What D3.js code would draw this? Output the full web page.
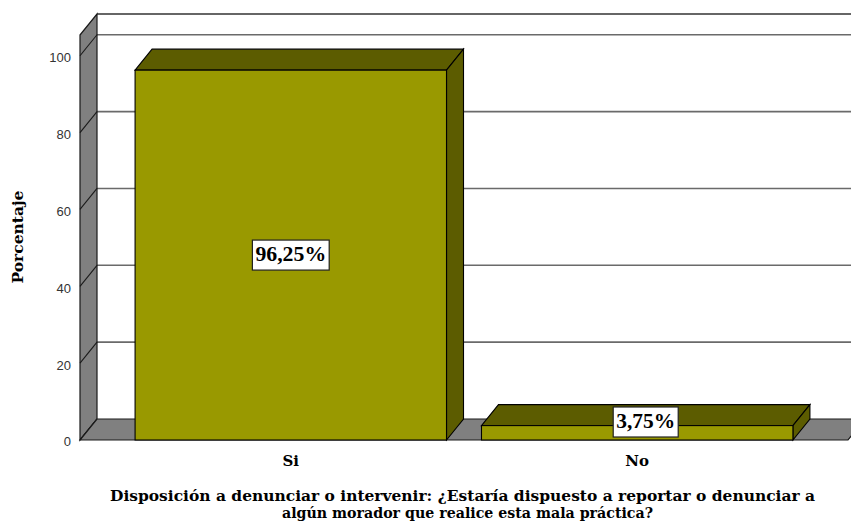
<!DOCTYPE html>
<html>
<head>
<meta charset="utf-8">
<script src="https://cdn.jsdelivr.net/npm/d3@7"></script>
<style>
  html, body { margin: 0; padding: 0; background: #ffffff; }
  svg { display: block; }
</style>
</head>
<body>
<div id="chart"></div>
<script>
// ---- data ----
const categories = ["Si", "No"];
const values = [96.25, 3.75];
const valueLabels = ["96,25%", "3,75%"];
const yTicks = [0, 20, 40, 60, 80, 100];
const yAxisTitle = "Porcentaje";
const xTitleLines = [
  "Disposición a denunciar o intervenir: ¿Estaría dispuesto a reportar o denunciar a",
  "algún morador que realice esta mala práctica?"
];

// ---- layout ----
const W = 851, H = 528;
const DX = 17, DY = -21;           // 3D depth offset
const x0 = 80, x1 = 848;            // front plane horizontal range
const yBottom = 440, yTop = 35;     // front plane vertical range

const svg = d3.select("#chart").append("svg")
  .attr("width", W).attr("height", H);

const x = d3.scaleBand().domain(categories).range([x0, x1])
  .paddingInner(0.101).paddingOuter(0.159);
const y = d3.scaleLinear().domain([0, 105.4]).range([yBottom, yTop]);

const wallFill = "#808080", edge = "#1a1a1a";
const serif = "DejaVu Serif, Liberation Serif, serif";

// back wall top border
svg.append("line")
  .attr("x1", x0 + DX).attr("x2", W + 5)
  .attr("y1", y(105.4) + DY).attr("y2", y(105.4) + DY)
  .attr("stroke", "#333").attr("stroke-width", 1.5);

// gridlines on back wall
svg.selectAll(".grid").data(yTicks.filter(d => d > 0)).join("line")
  .attr("x1", x0 + DX).attr("x2", W + 5)
  .attr("y1", d => y(d) + DY).attr("y2", d => y(d) + DY)
  .attr("stroke", "#6a6a6a").attr("stroke-width", 1.6);

// left wall
svg.append("path")
  .attr("d", `M${x0},${y(105.4)} L${x0 + DX},${y(105.4) + DY} L${x0 + DX},${y(0) + DY} L${x0},${y(0)} Z`)
  .attr("fill", wallFill).attr("stroke", edge).attr("stroke-width", 1.2);

// tick diagonals on left wall
svg.selectAll(".tickd").data(yTicks).join("line")
  .attr("x1", x0).attr("x2", x0 + DX)
  .attr("y1", d => y(d)).attr("y2", d => y(d) + DY)
  .attr("stroke", edge).attr("stroke-width", 1.1);

// floor
svg.append("path")
  .attr("d", `M${x0},${y(0)} L${x1},${y(0)} L${x1 + DX},${y(0) + DY} L${x0 + DX},${y(0) + DY} Z`)
  .attr("fill", wallFill).attr("stroke", edge).attr("stroke-width", 1.2);

// y tick labels
svg.selectAll(".ytl").data(yTicks).join("text")
  .attr("x", x0 - 9).attr("y", d => y(d) + 3)
  .attr("text-anchor", "end").attr("dominant-baseline", "middle")
  .attr("font-family", "Liberation Sans, Arial, sans-serif")
  .attr("font-size", 13).attr("fill", "#333")
  .text(d => d);

// bars
const frontC = "#999900", darkC = "#5c5c00";
const bw = x.bandwidth();
const bars = svg.selectAll(".bar").data(categories.map((c, i) => ({ c, v: values[i], lab: valueLabels[i] })))
  .join("g");

bars.append("path") // top face
  .attr("d", d => {
    const L = x(d.c), R = L + bw, T = y(d.v);
    return `M${L},${T} L${L + DX},${T + DY} L${R + DX},${T + DY} L${R},${T} Z`;
  })
  .attr("fill", darkC).attr("stroke", "#000").attr("stroke-width", 1.1);
bars.append("path") // side face
  .attr("d", d => {
    const R = x(d.c) + bw, T = y(d.v), B = y(0);
    return `M${R},${T} L${R + DX},${T + DY} L${R + DX},${B + DY} L${R},${B} Z`;
  })
  .attr("fill", darkC).attr("stroke", "#000").attr("stroke-width", 1.1);
bars.append("rect") // front face
  .attr("x", d => x(d.c)).attr("y", d => y(d.v))
  .attr("width", bw).attr("height", d => y(0) - y(d.v))
  .attr("fill", frontC).attr("stroke", "#000").attr("stroke-width", 1.1);

// value labels
const boxH = 30;
bars.each(function(d) {
  const g = d3.select(this);
  let cx = x(d.c) + bw / 2;
  let cy = (y(d.v) + y(0)) / 2;
  const limit = y(0) - boxH / 2 - 3;
  if (cy > limit) { cy = limit; cx += DX / 2; }
  const tw = d.lab.length * 11.8;
  g.append("rect")
    .attr("x", cx - tw / 2 - 3).attr("y", cy - boxH / 2)
    .attr("width", tw + 6).attr("height", boxH)
    .attr("fill", "#fff").attr("stroke", "#222").attr("stroke-width", 1.2);
  g.append("text")
    .attr("x", cx).attr("y", cy + 1)
    .attr("text-anchor", "middle").attr("dominant-baseline", "middle")
    .attr("font-family", "Liberation Serif, Times New Roman, serif")
    .attr("font-weight", "bold").attr("font-size", 20).attr("fill", "#000")
    .attr("textLength", tw).attr("lengthAdjust", "spacingAndGlyphs")
    .text(d.lab);
});

// category labels
svg.selectAll(".xl").data(categories).join("text")
  .attr("x", d => x(d) + bw / 2).attr("y", 462)
  .attr("text-anchor", "middle").attr("dominant-baseline", "middle")
  .attr("font-family", serif)
  .attr("font-weight", "bold").attr("font-size", 15).attr("fill", "#000")
  .text(d => d);

// y axis title
svg.append("text")
  .attr("transform", "translate(19,237) rotate(-90)")
  .attr("text-anchor", "middle").attr("dominant-baseline", "middle")
  .attr("font-family", serif)
  .attr("font-weight", "bold").attr("font-size", 15).attr("fill", "#000")
  .attr("textLength", 93).attr("lengthAdjust", "spacingAndGlyphs")
  .text(yAxisTitle);

// x axis title
const titleLens = [705, 371];
svg.selectAll(".xt").data(xTitleLines).join("text")
  .attr("x", (d, i) => i === 0 ? 462.5 : 467.5).attr("y", (d, i) => 497 + i * 17)
  .attr("text-anchor", "middle").attr("dominant-baseline", "middle")
  .attr("font-family", serif)
  .attr("font-weight", "bold").attr("font-size", 14.5).attr("fill", "#000")
  .attr("textLength", (d, i) => titleLens[i]).attr("lengthAdjust", "spacingAndGlyphs")
  .text(d => d);
</script>
</body>
</html>
